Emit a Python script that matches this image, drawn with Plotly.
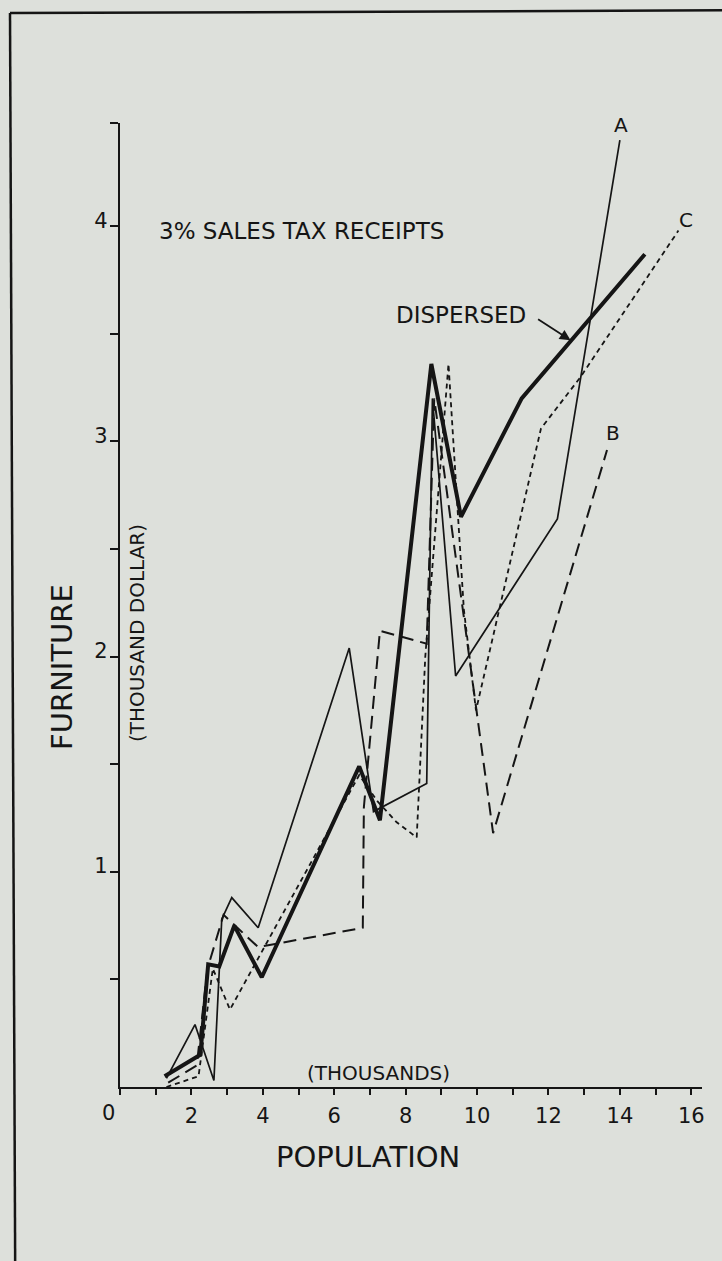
import plotly.graph_objects as go

# ---- data (population in thousands, furniture receipts in thousand dollars) ----
disp_x = [1.25, 2.25, 2.47, 2.78, 3.2, 3.97, 6.7, 7.28, 8.72, 9.55, 11.25, 14.7]
disp_y = [0.05, 0.15, 0.57, 0.56, 0.75, 0.51, 1.49, 1.24, 3.36, 2.65, 3.2, 3.87]

a_x = [1.3, 2.1, 2.63, 2.85, 3.13, 3.87, 6.42, 7.1, 8.59, 8.75, 9.4, 12.25, 14.0]
a_y = [0.04, 0.29, 0.03, 0.78, 0.88, 0.74, 2.04, 1.28, 1.41, 3.2, 1.91, 2.64, 4.40]

b_x = [1.35, 2.15, 2.45, 2.9, 3.87, 6.8, 6.83, 7.28, 8.59, 8.8, 10.45, 13.64]
b_y = [0.02, 0.1, 0.55, 0.8, 0.65, 0.74, 1.3, 2.12, 2.06, 3.2, 1.18, 2.96]

c_x = [1.3, 2.2, 2.6, 3.08, 6.7, 7.2, 7.75, 8.31, 8.55, 9.2, 9.63, 9.97, 11.79, 12.9, 15.64]
c_y = [0.0, 0.05, 0.55, 0.36, 1.45, 1.33, 1.23, 1.16, 2.0, 3.36, 2.22, 1.75, 3.06, 3.30, 3.98]

x_tick_vals = list(range(0, 17))
x_tick_text = ["" if (v % 2 == 1 or v == 0) else str(v) for v in x_tick_vals]
y_tick_vals = [0.5, 1, 1.5, 2, 2.5, 3, 3.5, 4, 4.48]
y_tick_text = ["", "1", "", "2", "", "3", "", "4", ""]

INK = "#151515"
BG = "#dde0db"
FONT = "DejaVu Sans"

fig = go.Figure()
fig.add_trace(go.Scatter(x=a_x, y=a_y, mode="lines", name="A",
                         line=dict(color=INK, width=1.7)))
fig.add_trace(go.Scatter(x=b_x, y=b_y, mode="lines", name="B",
                         line=dict(color=INK, width=2, dash="13px,7px")))
fig.add_trace(go.Scatter(x=c_x, y=c_y, mode="lines", name="C",
                         line=dict(color=INK, width=1.8, dash="5px,4px")))
fig.add_trace(go.Scatter(x=disp_x, y=disp_y, mode="lines", name="DISPERSED",
                         line=dict(color=INK, width=4)))

ann = []
def txt(x, y, t, size, angle=0, ref="data"):
    xr, yr = ("x", "y") if ref == "data" else ("paper", "paper")
    ann.append(dict(x=x, y=y, xref=xr, yref=yr, text=t, showarrow=False,
                    textangle=angle, xanchor="center", yanchor="middle",
                    font=dict(family=FONT, size=size, color=INK)))

txt(5.09, 3.98, "3% SALES TAX RECEIPTS", 23)
txt(9.55, 3.59, "DISPERSED", 23)
txt(14.03, 4.47, "A", 20)
txt(15.85, 4.03, "C", 20)
txt(13.81, 3.04, "B", 20)
txt(7.25, 0.065, "(THOUSANDS)", 20)
txt(0.48, 2.11, "(THOUSAND DOLLAR)", 20, angle=-90)
txt(-0.101, 0.436, "FURNITURE", 29, angle=-90, ref="paper")
txt(0.426, -0.0726, "POPULATION", 29, ref="paper")
txt(-0.0206, -0.027, "0", 21, ref="paper")
ann.append(dict(x=12.62, y=3.47, xref="x", yref="y", text="", showarrow=True,
                ax=-34, ay=-22, arrowhead=2, arrowsize=1.2, arrowwidth=1.8,
                arrowcolor=INK))

fig.update_layout(
    width=722, height=1261,
    margin=dict(l=120, r=20, t=123, b=174),
    paper_bgcolor=BG, plot_bgcolor=BG,
    showlegend=False,
    annotations=ann,
    font=dict(family=FONT, color=INK),
    shapes=[
        dict(type="line", xref="paper", yref="paper", x0=-0.189, y0=1.114,
             x1=1.1, y1=1.117, line=dict(color=INK, width=2.5)),
        dict(type="line", xref="paper", yref="paper", x0=-0.189, y0=1.114,
             x1=-0.18, y1=-0.2, line=dict(color=INK, width=2.5)),
    ],
)
tickfont = dict(family=FONT, size=21, color=INK)
fig.update_xaxes(range=[0, 16.3], showgrid=False, zeroline=False,
                 showline=True, linecolor=INK, linewidth=2.2,
                 ticks="outside", ticklen=6, tickwidth=2, tickcolor=INK,
                 tickmode="array", tickvals=x_tick_vals, ticktext=x_tick_text,
                 tickfont=tickfont, ticklabelstandoff=3)
fig.update_yaxes(range=[0, 4.48], showgrid=False, zeroline=False,
                 showline=True, linecolor=INK, linewidth=2.2,
                 ticks="outside", ticklen=8, tickwidth=2, tickcolor=INK,
                 tickmode="array", tickvals=y_tick_vals, ticktext=y_tick_text,
                 tickfont=tickfont, ticklabelshift=-6, ticklabelstandoff=-2)

fig.write_html(
    "out.html",
    config={"displayModeBar": False},
    post_script="document.body.style.margin='0';"
                "document.body.style.background='" + BG + "';",
)
